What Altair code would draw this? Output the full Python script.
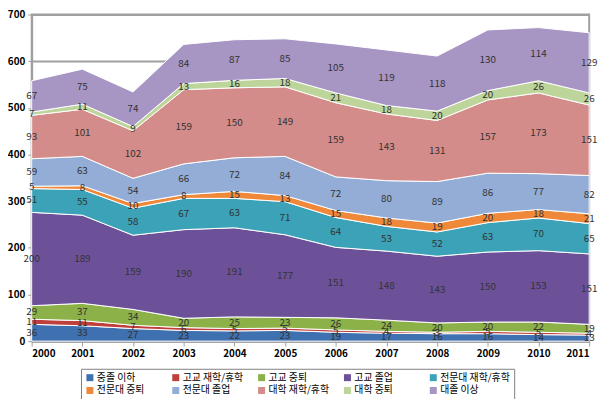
import altair as alt
import pandas as pd

years = [2000, 2001, 2002, 2003, 2004, 2005, 2006, 2007, 2008, 2009, 2010, 2011]
series = ["중졸 이하", "고교 재학/휴학", "고교 중퇴", "고교 졸업", "전문대 재학/휴학",
          "전문대 중퇴", "전문대 졸업", "대학 재학/휴학", "대학 중퇴", "대졸 이상"]
colors = ["#3F71B1", "#BE3F3B", "#8CB148", "#6C5199", "#3CA2B8",
          "#F0883A", "#93ADD6", "#D48C8A", "#BDD59A", "#A795C4"]

v_mid = [36, 33, 27, 23, 22, 23, 19, 17, 16, 16, 14, 13]
v_hs_att = [11, 11, 7, 6, 5, 5, 5, 4, 3, 5, 5, 4]
v_hs_drop = [29, 37, 34, 20, 25, 23, 26, 24, 20, 20, 22, 19]
v_hs_grad = [200, 189, 159, 190, 191, 177, 151, 148, 143, 150, 153, 151]
v_jc_att = [51, 55, 58, 67, 63, 71, 64, 53, 52, 63, 70, 65]
v_jc_drop = [5, 8, 10, 8, 15, 13, 15, 18, 19, 20, 18, 21]
v_jc_grad = [59, 63, 54, 66, 72, 84, 72, 80, 89, 86, 77, 82]
v_u_att = [93, 101, 102, 159, 150, 149, 159, 143, 131, 157, 173, 151]
v_u_drop = [7, 11, 9, 13, 16, 18, 21, 18, 20, 20, 26, 26]
v_u_grad = [67, 75, 74, 84, 87, 85, 105, 119, 118, 130, 114, 129]

values = [v_mid, v_hs_att, v_hs_drop, v_hs_grad, v_jc_att,
          v_jc_drop, v_jc_grad, v_u_att, v_u_drop, v_u_grad]

rows = []
for i, (s, vals) in enumerate(zip(series, values)):
    for y, v in zip(years, vals):
        rows.append({"year": y, "series": s, "order": i, "value": v})
df = pd.DataFrame(rows)

FONT = "Noto Sans CJK KR"

base = alt.Chart(df).transform_stack(
    stack="value", groupby=["year"], as_=["y0", "y1"],
    sort=[alt.SortField("order", order="ascending")]
).transform_calculate(mid="(datum.y0 + datum.y1) / 2")

xenc = alt.X("year:Q", scale=alt.Scale(domain=[2000, 2011], nice=False, zero=False),
             axis=alt.Axis(values=years, format="d", title=None, labelFontSize=10,
                           labelFontWeight="bold", labelColor="#000", labelFont=FONT,
                           domainColor="#A0A0A0", domainWidth=2, tickColor="#A0A0A0",
                           tickSize=5, labelPadding=3, grid=False))

area = base.mark_area(stroke="white", strokeWidth=1, interpolate="linear").encode(
    x=xenc,
    y=alt.Y("y0:Q", scale=alt.Scale(domain=[0, 700], nice=False),
            axis=alt.Axis(values=[0, 100, 200, 300, 400, 500, 600, 700], title=None,
                          labelFontSize=10, labelFontWeight="bold", labelColor="#000",
                          labelFont=FONT, grid=True, gridColor="#A0A0A0", gridWidth=2,
                          domainColor="#A0A0A0", domainWidth=2, tickColor="#A0A0A0",
                          tickSize=4, labelPadding=3)),
    y2="y1:Q",
    color=alt.Color("series:N", scale=alt.Scale(domain=series, range=colors),
                    sort=series,
                    legend=alt.Legend(title=None, orient="none", legendX=50, legendY=359,
                                      columns=5, direction="horizontal",
                                      symbolType="square", symbolSize=50,
                                      symbolStrokeWidth=0, labelFontSize=10,
                                      labelFont=FONT, labelColor="#000",
                                      gridAlign="all", columnPadding=4, rowPadding=3,
                                      labelOffset=2,
                                      strokeColor="#808080", fillColor="white",
                                      padding=4, labelLimit=200)),
    order=alt.Order("order:Q")
)

labels = base.mark_text(fontSize=10, color="#333333", font=FONT).encode(
    x="year:Q",
    y="mid:Q",
    text="value:Q"
)

chart = (area + labels).properties(
    width=565, height=331,
    padding={"left": 24, "top": 4, "right": 14, "bottom": 56},
    autosize=alt.AutoSizeParams(type="none")
).configure_view(stroke="#A0A0A0", strokeWidth=2)

chart.save("out.html", embed_options={"renderer": "svg", "actions": False})
